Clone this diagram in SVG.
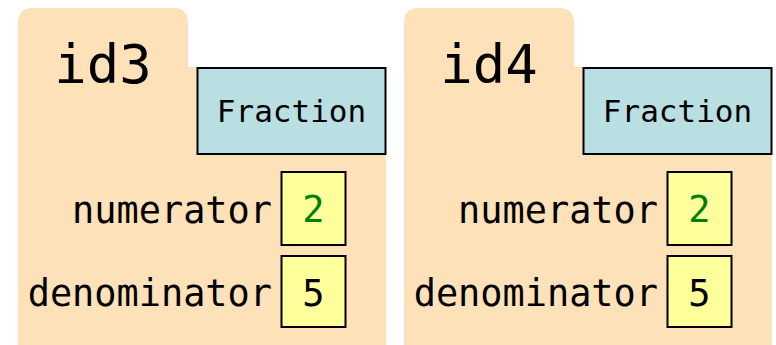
<svg xmlns="http://www.w3.org/2000/svg" width="776" height="345" viewBox="0 0 776 345">
  <style>
    .folder { fill: #fde1b8; stroke: none; }
    .cls { fill: #b9dfe3; stroke: #000; stroke-width: 2; }
    .val { fill: #ffff9c; stroke: #000; stroke-width: 2; }
    text { font-family: "DejaVu Sans Mono", "Liberation Mono", monospace; fill: #000; }
    .id { font-size: 54px; text-anchor: middle; }
    .cname { font-size: 31px; text-anchor: middle; }
    .field { font-size: 36.9px; text-anchor: end; }
    .num { font-size: 37px; text-anchor: middle; fill: #008000; }
    .plain { font-size: 37px; text-anchor: middle; }
  </style>
  <defs>
    <!-- one object frame: folder tab, class box and two field slots -->
    <g id="frame">
      <path class="folder" d="M18,345 V23 Q18,8 33,8 H173 Q188,8 188,23 V67 H386 V345 Z"/>
      <rect class="cls" x="197.5" y="68" width="188" height="86"/>
      <text class="cname" x="291.5" y="122">Fraction</text>
      <text class="field" x="272" y="223">numerator</text>
      <rect class="val" x="281.5" y="172" width="64" height="73"/>
      <text class="num" x="313.5" y="222">2</text>
      <text class="field" x="272" y="306">denominator</text>
      <rect class="val" x="281.5" y="256" width="64" height="71"/>
      <text class="plain" x="313.5" y="306">5</text>
    </g>
  </defs>
  <g id="id3">
    <use href="#frame"/>
    <text class="id" x="103" y="83">id3</text>
  </g>
  <g id="id4" transform="translate(386,0)">
    <use href="#frame"/>
    <text class="id" x="103" y="83">id4</text>
  </g>
</svg>
